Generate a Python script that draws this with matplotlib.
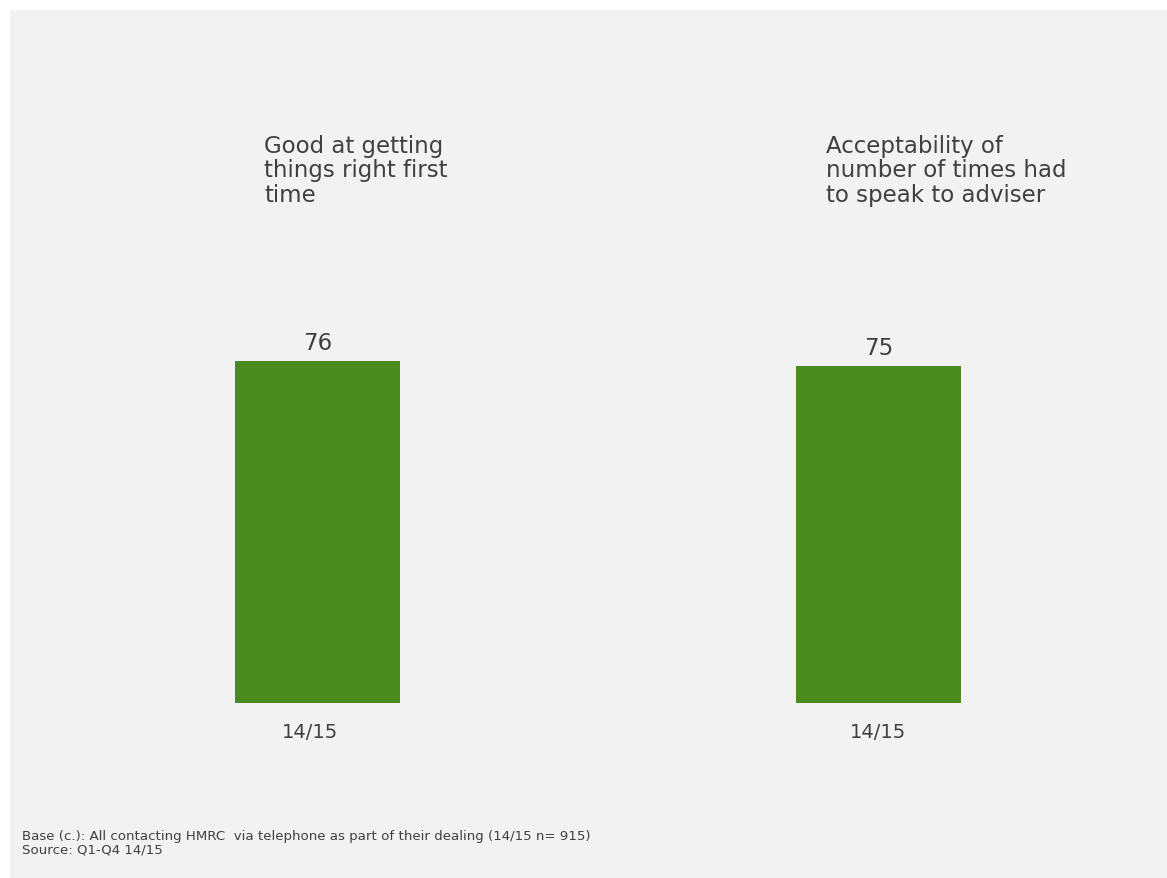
import matplotlib
matplotlib.use("Agg")
import matplotlib.pyplot as plt
from matplotlib.patches import Rectangle
from matplotlib.transforms import ScaledTranslation

### data
categories = ["Good at getting\nthings right first\ntime",
              "Acceptability of\nnumber of times had\nto speak to adviser"]
periods = ["14/15", "14/15"]
scores = [76, 75]

bar_colour = "#4a8a1e"
text_colour = "#404040"
panel_colour = "#f2f2f2"

fig = plt.figure(figsize=(11.67, 8.79), dpi=100)
fig.patch.set_facecolor("white")

### grey panel with a thin white margin on the top and left
fig.patches.append(Rectangle((10 / 1167, 0), 1 - 10 / 1167, 1 - 11 / 879,
                             transform=fig.transFigure, facecolor=panel_colour,
                             edgecolor="none", zorder=-5))

ax = fig.add_axes([37 / 1167, 175 / 879, 1122 / 1167, 450 / 879])
ax.set_facecolor("none")
ax.set_zorder(2)

xpos = range(len(scores))
bars = ax.bar(xpos, scores, width=0.294, color=bar_colour)
ax.set_xlim(-0.5, 1.5)
ax.set_ylim(0, 100)

### value labels above each bar
for rect, val in zip(bars, scores):
    ax.annotate(str(val), (rect.get_x() + rect.get_width() / 2, rect.get_height()),
                xytext=(0, 5), textcoords="offset points",
                ha="center", va="bottom", fontsize=16.5, color=text_colour)

ax.set_xticks(list(xpos))
ax.set_xticklabels(periods, fontsize=14, color=text_colour)
ax.tick_params(axis="x", length=0, pad=14)
ax.set_yticks([])
for s in ax.spines.values():
    s.set_visible(False)

### first period label sits slightly left of its bar
lbl = ax.get_xticklabels()[0]
lbl.set_transform(lbl.get_transform() + ScaledTranslation(-8 / 100, 0, fig.dpi_scale_trans))

### category headings
title_x = [264 / 1167, 826 / 1167]
for tx, cat in zip(title_x, categories):
    fig.text(tx, 1 - 135 / 879, cat, ha="left", va="top", fontsize=16.5,
             color=text_colour, linespacing=1.08, zorder=3)

### footnote
fig.text(22 / 1167, 1 - 830 / 879,
         "Base (c.): All contacting HMRC  via telephone as part of their dealing (14/15 n= 915)\nSource: Q1-Q4 14/15",
         ha="left", va="top", fontsize=9.6, color=text_colour, linespacing=1.08, zorder=3)

fig.savefig("out.png", dpi=100, facecolor=fig.get_facecolor())
